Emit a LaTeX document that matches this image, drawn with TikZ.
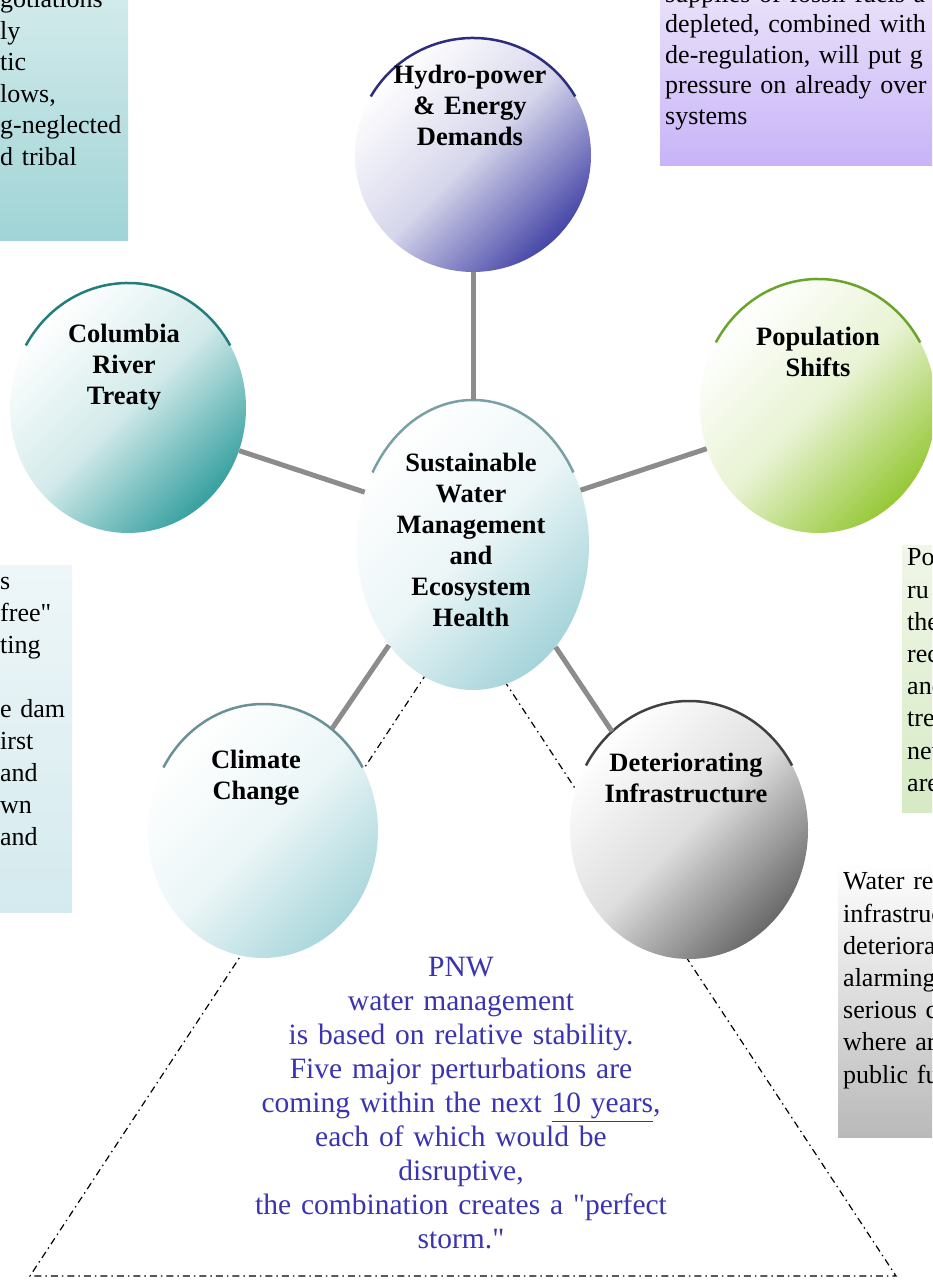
\documentclass[tikz,border=0pt]{standalone}
\usepackage{fontspec}
\setmainfont{Liberation Serif}[Ligatures=TeXOff]
\usetikzlibrary{shapes.geometric, positioning}

\definecolor{hydroblue}{RGB}{70,70,168}
\definecolor{hydrorim}{RGB}{45,45,125}
\definecolor{treatyteal}{RGB}{55,160,160}
\definecolor{treatyrim}{RGB}{35,125,125}
\definecolor{popgreen}{RGB}{150,200,55}
\definecolor{poprim}{RGB}{105,165,40}
\definecolor{corecyan}{RGB}{165,212,218}
\definecolor{corerim}{RGB}{120,160,165}
\definecolor{climatecyan}{RGB}{170,215,220}
\definecolor{climaterim}{RGB}{105,145,150}
\definecolor{infragray}{RGB}{105,105,105}
\definecolor{infrarim}{RGB}{65,65,65}
\definecolor{spokegray}{RGB}{140,140,140}
\definecolor{stormblue}{RGB}{58,52,178}

\tikzset{
  orb/.style={ellipse, inner sep=0pt, top color=white, bottom color=#1, middle color=#1!22, shading angle=45},
  orblabel/.style={font=\fontsize{26.5}{31}\selectfont\bfseries, align=center, text width=230pt, inner sep=0pt},
  rim/.style={line width=2.5pt},
  spoke/.style={draw=spokegray, line width=5pt},
  note/.style={rectangle, inner sep=0pt, anchor=north west, shading angle=45},
  notetext/.style={font=\fontsize{26}{#1}\selectfont, align=left, inner sep=0pt, anchor=base west, text width=400pt},
  stormedge/.style={line width=1.2pt, dash pattern=on 7pt off 4pt on 1.5pt off 4pt},
  stormtext/.style={font=\fontsize{29.5}{34}\selectfont, text=stormblue, align=center, text width=440pt, inner sep=0pt, anchor=base}
}

\begin{document}
\begin{tikzpicture}[x=1pt, y=1pt]
  \fill[white] (0,0) rectangle (932,1282);
  \useasboundingbox (0,0) rectangle (932,1282);
  \clip (0,0) rectangle (932,1282);

  % side notes, cut by the frame
  \node[note, minimum width=138, minimum height=250, top color={rgb,255:red,212;green,235;blue,236}, bottom color={rgb,255:red,160;green,212;blue,214}] (treatynote) at (-10,1292) {};
  \node[notetext=31.5] (treatytext) at (0,1274) {gotiations\\ly\\tic\\lows,\\g-neglected\\d tribal};

  \node[note, minimum width=280, minimum height=175, top color={rgb,255:red,234;green,226;blue,250}, bottom color={rgb,255:red,200;green,180;blue,248}] (hydronote) at (660,1292) {};
  \node[notetext=30.5] (hydrotext) at (665,1279.5) {supplies of fossil fuels a\\depleted, combined with\\de-regulation, will put g\\pressure on already over\\systems};

  \node[note, minimum width=82, minimum height=347, top color={rgb,255:red,238;green,246;blue,248}, bottom color={rgb,255:red,212;green,234;blue,238}] (damnote) at (-10,717) {};
  \node[notetext=32] (damtext) at (0,692) {s\\free"\\ting\\[32pt]e dam\\irst\\and\\wn\\and};

  \node[note, minimum width=40, minimum height=267, top color={rgb,255:red,240;green,246;blue,232}, bottom color={rgb,255:red,214;green,234;blue,196}] (popnote) at (902,737) {};
  \node[notetext=32.2] (poptext) at (907,716) {Po\\ru\\the\\rec\\and\\tre\\new\\are};

  \node[note, minimum width=104, minimum height=275, top color=white, bottom color={rgb,255:red,185;green,185;blue,185}] (infranote) at (838,420) {};
  \node[notetext=32.2] (infratext) at (843,392) {Water re\\infrastruc\\deteriora\\alarming\\serious c\\where ar\\public fu};

  % storm outline, partly hidden behind the circles
  \coordinate (apex) at (463,664);
  \coordinate (stormL) at (30,6);
  \coordinate (stormR) at (896,6);
  \draw[stormedge] (apex) -- (stormL) -- (stormR) -- cycle;

  % circles
  \node[orb=hydroblue, minimum width=236, minimum height=234] (hydro) at (473,1127) {};
  \node[orb=treatyteal, minimum width=236, minimum height=250] (treaty) at (128,874) {};
  \node[orb=popgreen, minimum width=236, minimum height=254] (pop) at (818,876) {};
  \node[orb=corecyan, minimum width=232, minimum height=290] (core) at (473,737) {};
  \node[orb=climatecyan, minimum width=230, minimum height=254] (climate) at (263,451) {};
  \node[orb=infragray, minimum width=238, minimum height=258] (infra) at (689,452) {};

  \draw[rim, hydrorim] ([shift={(150:118 and 117)}]hydro.center) arc[start angle=150, end angle=30, x radius=118, y radius=117];
  \draw[rim, treatyrim] ([shift={(150:118 and 125)}]treaty.center) arc[start angle=150, end angle=30, x radius=118, y radius=125];
  \draw[rim, poprim] ([shift={(150:118 and 127)}]pop.center) arc[start angle=150, end angle=30, x radius=118, y radius=127];
  \draw[rim, corerim] ([shift={(150:116 and 145)}]core.center) arc[start angle=150, end angle=30, x radius=116, y radius=145];
  \draw[rim, climaterim] ([shift={(150:115 and 127)}]climate.center) arc[start angle=150, end angle=30, x radius=115, y radius=127];
  \draw[rim, infrarim] ([shift={(150:119 and 129)}]infra.center) arc[start angle=150, end angle=30, x radius=119, y radius=129];

  \draw[spoke] (core.north) -- (hydro.south);
  \draw[spoke] (core.154) -- (treaty.-21);
  \draw[spoke] (core.27) -- (pop.201);
  \draw[spoke] (core.230) -- (climate.56);
  \draw[spoke] (core.-51) -- (infra.128);

  \node[orblabel] (hydrotxt) at ([xshift=-3, yshift=50]hydro.center) {Hydro-power\\\& Energy\\Demands};
  \node[orblabel] (treatytxt) at ([xshift=-4, yshift=41]treaty.center) {Columbia\\River\\Treaty};
  \node[orblabel] (poptxt) at ([yshift=54]pop.center) {Population\\Shifts};
  \node[orblabel] (coretxt) at ([xshift=-2, yshift=5]core.center) {Sustainable\\Water\\Management\\and\\Ecosystem\\Health};
  \node[orblabel] (climatetxt) at ([xshift=-7, yshift=53]climate.center) {Climate\\Change};
  \node[orblabel] (infratxt) at ([xshift=-3, yshift=52]infra.center) {Deteriorating\\Infrastructure};

  \node[stormtext] (stormtxt) at (461,305) {PNW\\water management\\is based on relative stability.\\Five major perturbations are\\coming within the next \underline{10 years},\\each of which would be\\disruptive,\\the combination creates a "perfect\\storm."};
\end{tikzpicture}
\end{document}
